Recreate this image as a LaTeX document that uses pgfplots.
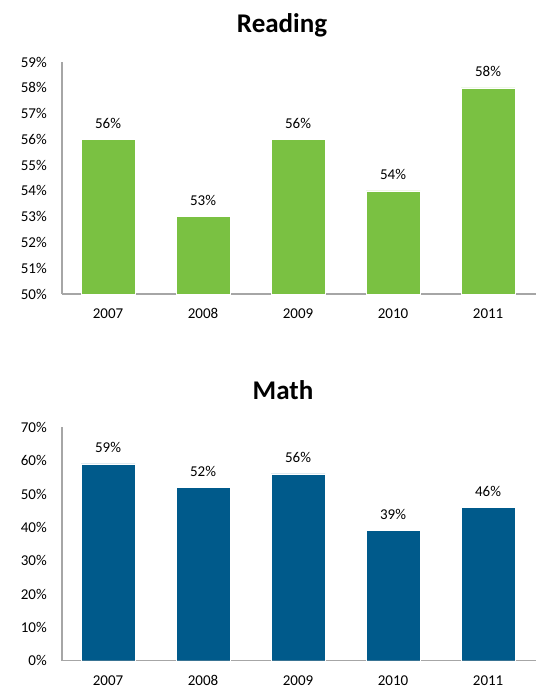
\documentclass[border=0pt]{standalone}
\usepackage{pgfplots}
\pgfplotsset{compat=1.18}
\usepackage{fontspec}
\setmainfont{Carlito}
\definecolor{rgreen}{HTML}{7AC142}
\definecolor{mblue}{HTML}{005A8B}
\definecolor{axgray}{HTML}{A6A6A6}
\pgfplotsset{
  mybars/.style={
    scale only axis,
    width=473.6pt,
    ybar,
    bar width=0.57,
    xmin=-0.485, xmax=4.5,
    xtick={0,1,2,3,4},
    xticklabels={2007,2008,2009,2010,2011},
    axis x line*=bottom,
    axis y line*=left,
    axis line style={axgray, line width=1.1pt},
    x axis line style={-},
    y axis line style={-},
    major tick length=0pt,
    /pgf/number format/assume math mode=true,
    tick label style={font=\fontsize{15}{18}\selectfont, text=black},
    yticklabel style={inner sep=0pt, anchor=east, xshift=-15pt},
    xticklabel style={inner sep=0pt, anchor=base, yshift=-25pt},
    yticklabel={\pgfmathprintnumber{\tick}\%},
    nodes near coords={\pgfmathprintnumber{\pgfplotspointmeta}\%},
    every node near coord/.append style={font=\fontsize{15}{18}\selectfont, text=black, inner sep=0pt, anchor=base, yshift=11pt},
    clip=false,
  }
}
\begin{document}
\begin{tikzpicture}[x=1pt,y=1pt]
\useasboundingbox (0,0) rectangle (544,688);
\begin{axis}[mybars,
  at={(62pt,394pt)}, anchor=south west,
  height=232pt, ymin=50, ymax=59, ytick={50,51,...,59}]
\addplot[fill=rgreen, draw=white, line width=0.4pt] coordinates {(0,56) (1,53) (2,56) (3,54) (4,58)};
\end{axis}
\node[font=\fontsize{27}{32}\selectfont\bfseries] at (282,663) {Reading};
\begin{axis}[mybars,
  at={(62pt,27.3pt)}, anchor=south west,
  height=233.4pt, ymin=0, ymax=70, ytick={0,10,...,70}]
\addplot[fill=mblue, draw=white, line width=0.4pt] coordinates {(0,59) (1,52) (2,56) (3,39) (4,46)};
\end{axis}
\node[font=\fontsize{27}{32}\selectfont\bfseries] at (283,298) {Math};
\end{tikzpicture}
\end{document}
